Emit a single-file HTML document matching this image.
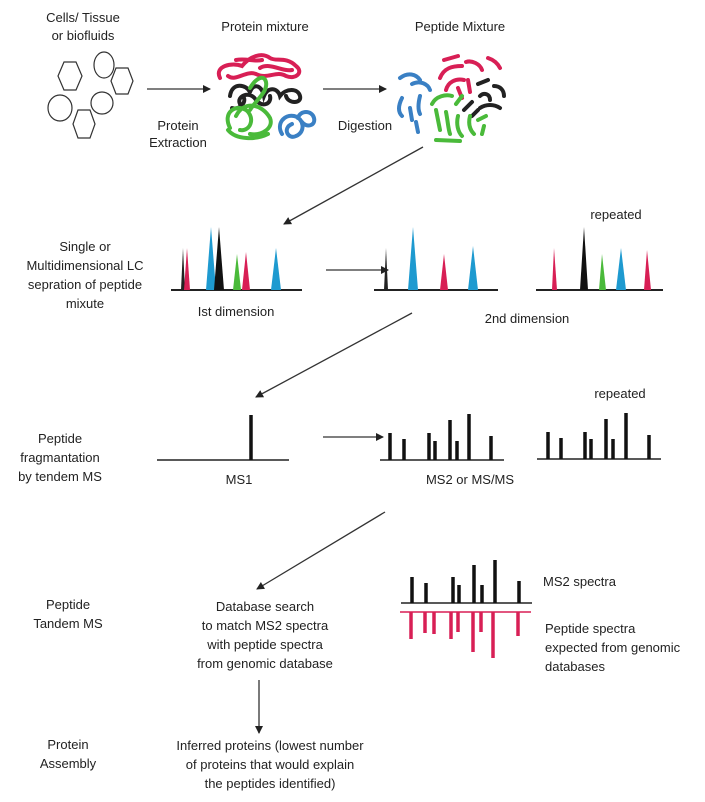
<!DOCTYPE html>
<html><head><meta charset="utf-8"><style>
body{margin:0;background:#fff;}
svg text{font-family:"Liberation Sans",sans-serif;font-size:13px;fill:#222;}
</style></head><body>
<svg width="705" height="797" viewBox="0 0 705 797" xmlns="http://www.w3.org/2000/svg">
<defs><marker id="a" markerWidth="8" markerHeight="8" refX="7" refY="4" orient="auto" markerUnits="userSpaceOnUse"><path d="M0,0 L8,4 L0,8 z" fill="#222"/></marker></defs>
<g text-anchor="middle">
<text x="83" y="22">Cells/ Tissue</text><text x="83" y="40">or biofluids</text>
<text x="265" y="31">Protein mixture</text>
<text x="460" y="31">Peptide Mixture</text>
<text x="178" y="130">Protein</text><text x="178" y="147">Extraction</text>
<text x="365" y="130">Digestion</text>
<text x="85" y="251">Single or</text><text x="85" y="270">Multidimensional LC</text><text x="85" y="289">sepration of peptide</text><text x="85" y="308">mixute</text>
<text x="236" y="316">Ist dimension</text><text x="527" y="323">2nd  dimension</text>
<text x="616" y="219">repeated</text>
<text x="60" y="443">Peptide</text><text x="60" y="462">fragmantation</text><text x="60" y="481">by tendem MS</text>
<text x="239" y="484">MS1</text><text x="470" y="484">MS2 or MS/MS</text>
<text x="620" y="398">repeated</text>
<text x="68" y="609">Peptide</text><text x="68" y="628">Tandem MS</text>
<text x="265" y="611">Database search</text><text x="265" y="630">to match MS2 spectra</text><text x="265" y="649">with  peptide spectra</text><text x="265" y="668">from genomic database</text>
<text x="68" y="749">Protein</text><text x="68" y="768">Assembly</text>
<text x="270" y="750">Inferred proteins (lowest number</text><text x="270" y="769">of proteins that would explain</text><text x="270" y="788">the peptides identified)</text>
</g>
<text x="543" y="586">MS2 spectra</text>
<text x="545" y="633">Peptide spectra</text><text x="545" y="652">expected from genomic</text><text x="545" y="671">databases</text>

<!-- cells -->
<g fill="none" stroke="#333" stroke-width="1.2">
<polygon points="64,62 76,62 82,76 76,90 64,90 58,76"/>
<ellipse cx="104" cy="65" rx="10" ry="13"/>
<polygon points="116,68 128,68 133,81 128,94 116,94 111,81"/>
<ellipse cx="60" cy="108" rx="12" ry="13"/>
<ellipse cx="102" cy="103" rx="11" ry="11"/>
<polygon points="78,110 90,110 95,124 90,138 78,138 73,124"/>
</g>
<g stroke="#333" stroke-width="1.3" fill="none">
<line x1="147" y1="89" x2="210" y2="89" marker-end="url(#a)"/>
<line x1="323" y1="89" x2="386" y2="89" marker-end="url(#a)"/>
<line x1="423" y1="147" x2="284" y2="224" marker-end="url(#a)"/>
<line x1="326" y1="270" x2="388" y2="270" marker-end="url(#a)"/>
<line x1="412" y1="313" x2="256" y2="397" marker-end="url(#a)"/>
<line x1="323" y1="437" x2="383" y2="437" marker-end="url(#a)"/>
<line x1="385" y1="512" x2="257" y2="589" marker-end="url(#a)"/>
<line x1="259" y1="680" x2="259" y2="733" marker-end="url(#a)"/>
</g>
<!-- protein blob -->
<g fill="none" stroke-width="4" stroke-linecap="round">
<path stroke="#d81f55" d="M220,78 C214,66 232,62 242,66 C250,56 262,52 270,58 C276,62 286,56 296,66 C304,72 296,80 286,76 C276,70 268,80 256,74 C246,70 236,82 228,76 M236,60 C246,58 254,62 262,60 M260,68 C270,62 282,72 292,70"/>
<path stroke="#222" d="M230,96 C232,82 246,84 250,92 C254,82 262,86 264,96 C268,86 278,88 280,96 C286,88 298,88 300,96 C302,104 288,104 286,96 M240,104 C236,96 250,90 256,100 C262,108 272,104 270,96 M232,108 C238,110 246,104 244,98"/>
<path stroke="#4aba3a" d="M230,128 C222,112 236,104 246,110 C256,118 250,132 240,130 M236,116 C244,100 262,104 270,118 C274,128 262,136 250,134 M250,88 C256,78 264,74 266,82 C268,92 256,100 250,110 M228,130 C236,140 256,140 268,134"/>
<path stroke="#3a80c4" d="M282,134 C276,124 284,114 294,116 C304,118 306,132 296,136 C288,140 282,128 292,124 M298,118 C300,110 312,110 314,118 C316,126 306,128 302,122"/>
</g>
<!-- peptide blob -->
<g fill="none" stroke-width="4" stroke-linecap="round">
<path stroke="#3a80c4" d="M400,78 C408,72 416,74 420,80 M412,84 C420,80 428,84 430,90 M402,98 C398,106 398,112 402,116 M410,108 L412,120 M420,96 C418,104 418,110 420,114 M416,122 L418,132"/>
<path stroke="#d81f55" d="M444,60 L458,56 M440,78 C444,68 452,66 462,66 M466,62 C472,60 480,64 482,70 M488,58 C494,60 498,64 500,68 M446,90 C448,82 456,78 464,80 M468,80 L470,92 M458,88 L462,98"/>
<path stroke="#222" d="M478,84 L488,80 M494,86 C500,86 504,90 504,96 M480,96 C484,92 490,94 490,100 M464,110 L472,102 M480,108 C486,104 494,104 500,108 M472,116 L478,110"/>
<path stroke="#4aba3a" d="M432,104 C436,96 446,94 452,96 M436,110 L440,130 M446,112 C448,122 448,128 450,134 M456,104 L462,96 M458,116 C456,124 458,132 462,136 M470,116 C468,124 470,130 474,134 M478,120 L486,116 M484,126 L482,134 M436,140 L460,141"/>
</g>
<!-- LC row -->
<g stroke="#222" stroke-width="2">
<line x1="171" y1="290" x2="302" y2="290"/><line x1="374" y1="290" x2="498" y2="290"/><line x1="536" y1="290" x2="663" y2="290"/>
</g>
<g>
<polygon points="181,290 183,248 185,290" fill="#222"/><polygon points="184,290 187,248 190,290" fill="#d81f55"/>
<polygon points="206,290 211,227 216,290" fill="#1e9ad0"/><polygon points="214,290 219,227 224,290" fill="#111"/>
<polygon points="233,290 237,254 241,290" fill="#4aba3a"/><polygon points="242,290 246,252 250,290" fill="#d81f55"/>
<polygon points="271,290 276,248 281,290" fill="#1e9ad0"/>
<polygon points="384,290 386,248 388,290" fill="#222"/>
<polygon points="408,290 413,227 418,290" fill="#1e9ad0"/>
<polygon points="440,290 444,254 448,290" fill="#d81f55"/>
<polygon points="468,290 473,246 478,290" fill="#1e9ad0"/>
<polygon points="552,290 554,248 557,290" fill="#d81f55"/>
<polygon points="580,290 584,227 588,290" fill="#111"/>
<polygon points="599,290 602,254 606,290" fill="#4aba3a"/>
<polygon points="616,290 621,248 626,290" fill="#1e9ad0"/>
<polygon points="644,290 647,250 651,290" fill="#d81f55"/>
</g>
<!-- MS row -->
<g stroke="#222" stroke-width="1.5">
<line x1="157" y1="460" x2="289" y2="460"/><line x1="380" y1="460" x2="504" y2="460"/><line x1="537" y1="459" x2="661" y2="459"/>
</g>
<g stroke="#111" stroke-width="3.5">
<line x1="251" y1="460" x2="251" y2="415"/>
<line x1="390" y1="460" x2="390" y2="433"/><line x1="404" y1="460" x2="404" y2="439"/><line x1="429" y1="460" x2="429" y2="433"/><line x1="435" y1="460" x2="435" y2="441"/><line x1="450" y1="460" x2="450" y2="420"/><line x1="457" y1="460" x2="457" y2="441"/><line x1="469" y1="460" x2="469" y2="414"/><line x1="491" y1="460" x2="491" y2="436"/>
<line x1="548" y1="459" x2="548" y2="432"/><line x1="561" y1="459" x2="561" y2="438"/><line x1="585" y1="459" x2="585" y2="432"/><line x1="591" y1="459" x2="591" y2="439"/><line x1="606" y1="459" x2="606" y2="419"/><line x1="613" y1="459" x2="613" y2="439"/><line x1="626" y1="459" x2="626" y2="413"/><line x1="649" y1="459" x2="649" y2="435"/>
</g>
<!-- DB row -->
<line x1="401" y1="603" x2="532" y2="603" stroke="#222" stroke-width="1.5"/>
<line x1="400" y1="612" x2="531" y2="612" stroke="#d81f55" stroke-width="1.5"/>
<g stroke="#111" stroke-width="3.5">
<line x1="412" y1="603" x2="412" y2="577"/><line x1="426" y1="603" x2="426" y2="583"/><line x1="453" y1="603" x2="453" y2="577"/><line x1="459" y1="603" x2="459" y2="585"/><line x1="474" y1="603" x2="474" y2="565"/><line x1="482" y1="603" x2="482" y2="585"/><line x1="495" y1="603" x2="495" y2="560"/><line x1="519" y1="603" x2="519" y2="581"/>
</g>
<g stroke="#d81f55" stroke-width="3.5">
<line x1="411" y1="612" x2="411" y2="639"/><line x1="425" y1="612" x2="425" y2="633"/><line x1="434" y1="612" x2="434" y2="634"/><line x1="451" y1="612" x2="451" y2="639"/><line x1="458" y1="612" x2="458" y2="632"/><line x1="473" y1="612" x2="473" y2="652"/><line x1="481" y1="612" x2="481" y2="632"/><line x1="493" y1="612" x2="493" y2="658"/><line x1="518" y1="612" x2="518" y2="636"/>
</g>
</svg>
</body></html>
